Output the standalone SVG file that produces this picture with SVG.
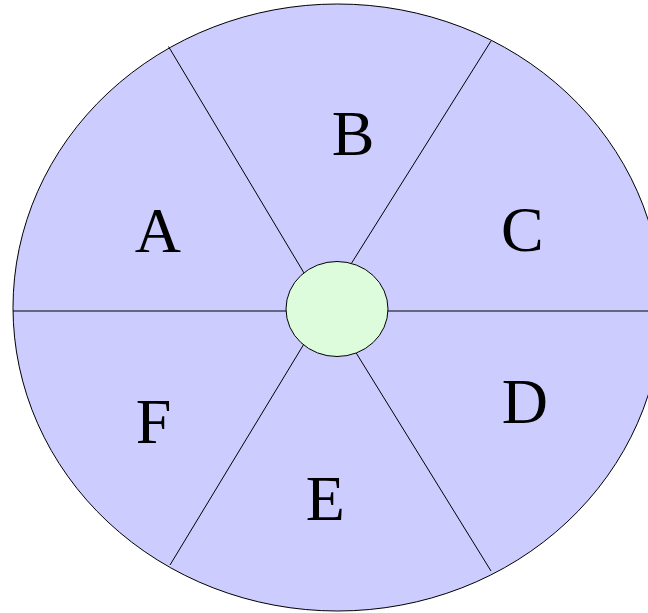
<svg xmlns="http://www.w3.org/2000/svg" width="648" height="613" viewBox="0 0 648 613">
<style>
.lbl{font-family:"Liberation Serif","Times New Roman",serif;font-size:64px;fill:#000}
.ln{stroke:#000;stroke-width:1;fill:none}
</style>
<rect width="648" height="613" fill="#fff"/>
<g id="wheel"><ellipse cx="337.5" cy="307.5" rx="324.5" ry="303.5" fill="#ccccff" stroke="#000" stroke-width="1"/></g>
<g id="connectors">
<line class="ln" x1="13" y1="311" x2="662" y2="311"/>
<line class="ln" x1="168.5" y1="46.5" x2="310" y2="283"/>
<line class="ln" x1="491" y1="41" x2="346" y2="272"/>
<line class="ln" x1="170" y1="565" x2="310" y2="334"/>
<line class="ln" x1="491" y1="571" x2="350" y2="343"/>
</g>
<g id="hub"><ellipse cx="337" cy="309" rx="51" ry="47.5" fill="#dcfcdc" stroke="#000" stroke-width="1"/></g>
<g id="A"><text class="lbl" x="134.7" y="252">A</text></g>
<g id="B"><text class="lbl" x="331.7" y="155">B</text></g>
<g id="C"><text class="lbl" x="501" y="251">C</text></g>
<g id="D"><text class="lbl" x="501.7" y="423">D</text></g>
<g id="E"><text class="lbl" x="305.7" y="520">E</text></g>
<g id="F"><text class="lbl" x="135.7" y="443">F</text></g>
</svg>
